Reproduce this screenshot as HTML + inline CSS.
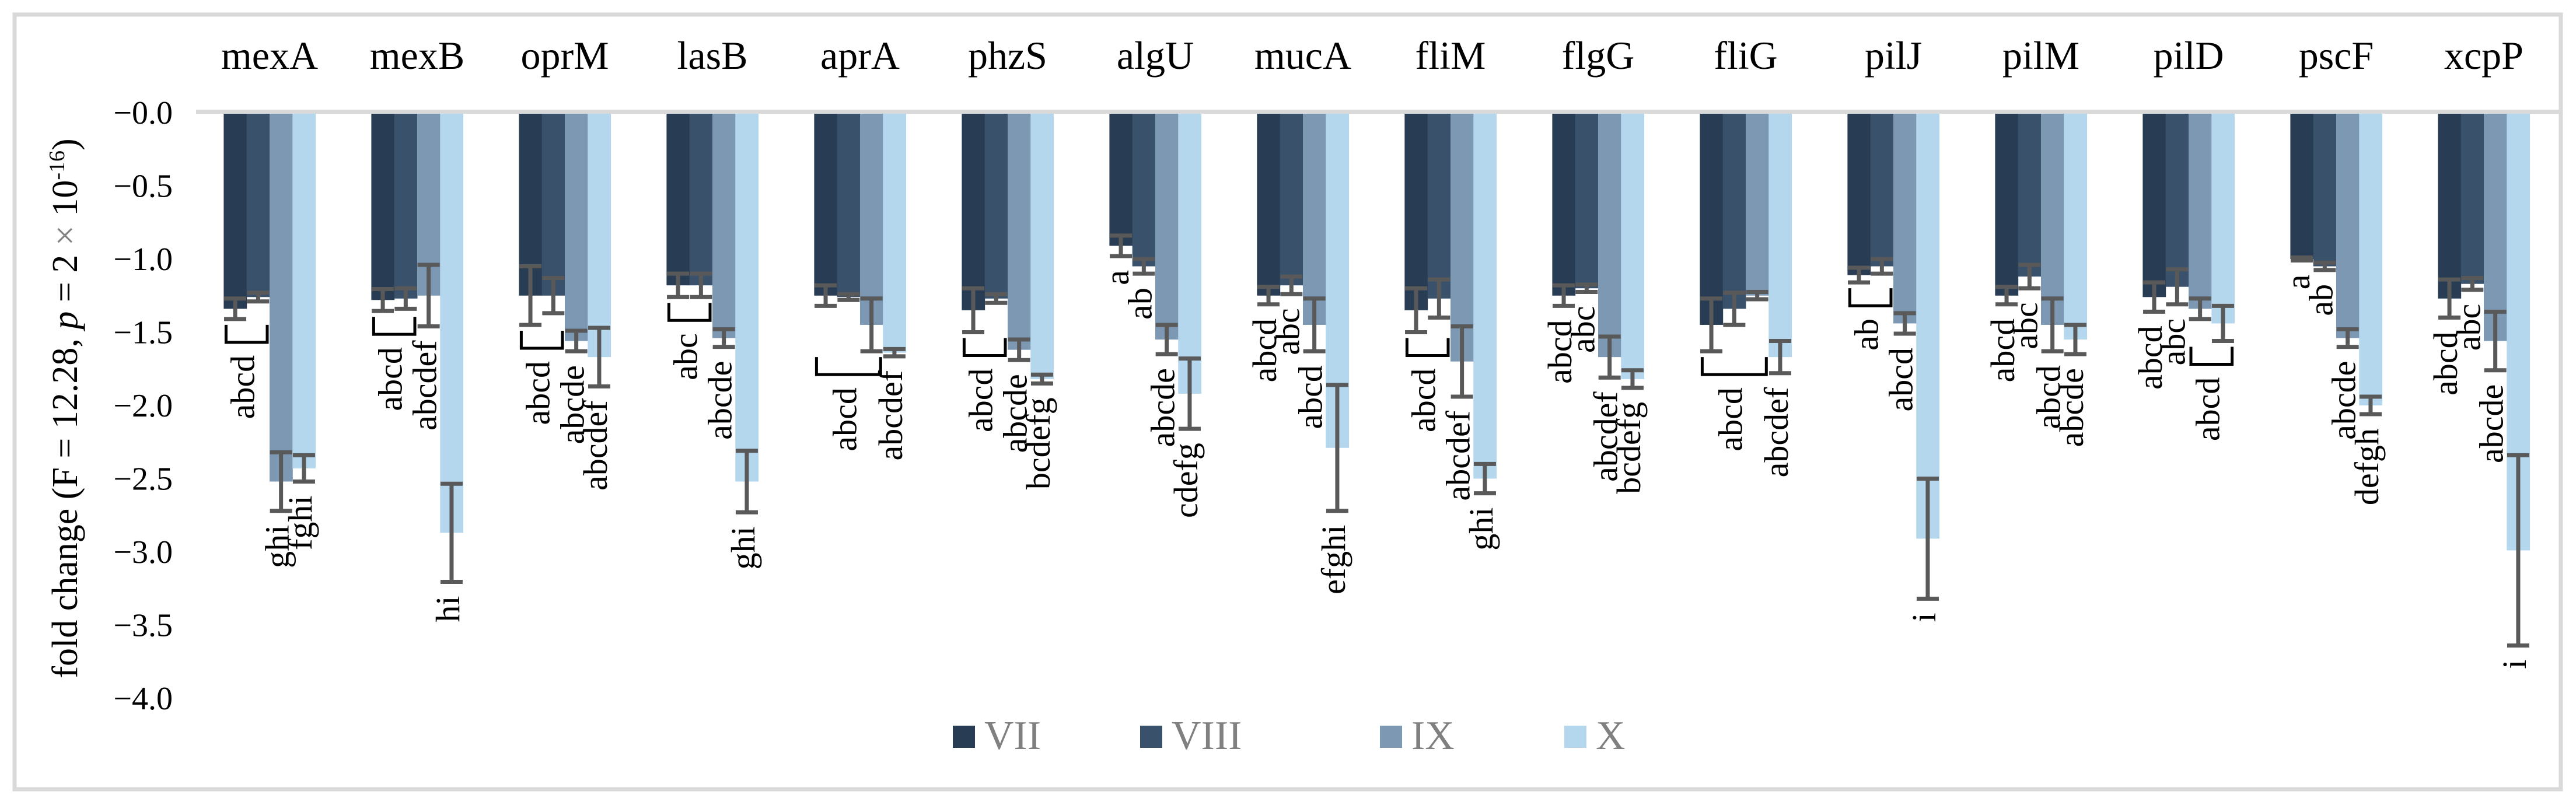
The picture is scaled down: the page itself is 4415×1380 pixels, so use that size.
<!DOCTYPE html>
<html><head><meta charset="utf-8"><style>
html,body{margin:0;padding:0;background:#fff;}
svg{display:block;}
svg text{font-family:"Liberation Serif",serif;}
</style></head><body>
<svg id="chart" width="4415" height="1380" viewBox="0 0 4415 1380" xmlns="http://www.w3.org/2000/svg" font-family="Liberation Serif, serif">
<rect x="25" y="25" width="4364" height="1328" fill="#fff" stroke="#d9d9d9" stroke-width="7"/>
<g id="yaxis"></g>
<line x1="336" y1="191.5" x2="4386" y2="191.5" stroke="#d9d9d9" stroke-width="7"/>
<g id="bars"></g>
<g id="errs"></g>
<g id="brackets"></g>
<g id="labels"></g>
<g id="cats"></g>
<text transform="translate(132,700) rotate(-90)" text-anchor="middle" font-size="62" fill="#000">fold change (F = 12.28,  <tspan font-style="italic">p</tspan> = 2 <tspan fill="#808080">×</tspan> 10<tspan dy="-22" font-size="38">-16</tspan><tspan dy="22">)</tspan></text>
<g id="legend"></g>
</svg>
<script>
const categories = ["mexA","mexB","oprM","lasB","aprA","phzS","algU","mucA","fliM","flgG","fliG","pilJ","pilM","pilD","pscF","xcpP"];
const seriesNames = ["VII","VIII","IX","X"];
const valVII  = [-1.34,-1.28,-1.25,-1.18,-1.25,-1.35,-0.91,-1.25,-1.35,-1.25,-1.45,-1.11,-1.25,-1.26,-1.00,-1.27];
const valVIII = [-1.26,-1.27,-1.25,-1.18,-1.26,-1.27,-1.05,-1.18,-1.27,-1.20,-1.34,-1.05,-1.12,-1.19,-1.05,-1.17];
const valIX   = [-2.52,-1.25,-1.56,-1.54,-1.45,-1.62,-1.55,-1.45,-1.70,-1.67,-1.25,-1.44,-1.45,-1.34,-1.54,-1.56];
const valX    = [-2.43,-2.87,-1.67,-2.52,-1.64,-1.82,-1.92,-2.29,-2.50,-1.82,-1.67,-2.91,-1.55,-1.44,-2.00,-2.99];
const errVII  = [0.07,0.075,0.20,0.08,0.07,0.15,0.07,0.06,0.15,0.07,0.18,0.05,0.06,0.10,0.01,0.13];
const errVIII = [0.03,0.07,0.12,0.08,0.02,0.03,0.05,0.06,0.13,0.025,0.11,0.05,0.08,0.12,0.025,0.04];
const errIX   = [0.20,0.21,0.07,0.06,0.18,0.07,0.10,0.18,0.24,0.14,0.025,0.07,0.18,0.07,0.06,0.20];
const errX    = [0.09,0.335,0.20,0.21,0.025,0.03,0.24,0.43,0.10,0.06,0.11,0.41,0.10,0.12,0.06,0.65];
const lblVII  = ["","","","","","","a","abcd","","abcd","","","abcd","abcd","a","abcd"];
const lblVIII = ["","","","","","","ab","abc","","abc","","","abc","abc","ab","abc"];
const lblIX   = ["ghi","abcdef","abcde","abcde","","abcde","abcde","abcd","abcdef","abcdef","","abcd","abcd","","abcde","abcde"];
const lblX    = ["fghi","hi","abcdef","ghi","abcdef","bcdefg","cdefg","efghi","ghi","bcdefg","abcdef","i","abcde","","defgh","i"];
const bracketCat   = [0,1,2,3,4,5,8,10,11,13];
const bracketFirst = [0,0,0,0,0,0,0,0,0,2];
const bracketLast  = [1,1,1,1,2,1,1,2,1,3];
const bracketText  = ["abcd","abcd","abcd","abc","abcd","abcd","abcd","abcd","ab","abcd"];
const yTicks = [0,-0.5,-1,-1.5,-2,-2.5,-3,-3.5,-4];
const tickLabels = ["−0.0","−0.5","−1.0","−1.5","−2.0","−2.5","−3.0","−3.5","−4.0"];

const NS="http://www.w3.org/2000/svg";
const colors=["#283d53","#3a516b","#7d98b3","#b4d7ee"];
const Y0=193, PPU=251, X0=462, STEP=253, BW=39.3;
function yScale(v){return Y0 - v*PPU;}
function groupCenter(i){return X0 + i*STEP;}
function barX(i,s){return groupCenter(i) - 2*BW + s*BW;}
function mk(tag,attrs,parent){const e=document.createElementNS(NS,tag);for(const k in attrs)e.setAttribute(k,attrs[k]);parent.appendChild(e);return e;}
const vals=[valVII,valVIII,valIX,valX], errs=[errVII,errVIII,errIX,errX], lbls=[lblVII,lblVIII,lblIX,lblX];

const gy=document.getElementById('yaxis');
yTicks.forEach((t,k)=>{
  const e=mk('text',{x:296,y:yScale(t)+19,'text-anchor':'end','font-size':56,fill:'#000'},gy);
  e.textContent=tickLabels[k];
  
  
});
const gc=document.getElementById('cats');
categories.forEach((c,i)=>{
  const e=mk('text',{x:groupCenter(i),y:118,'text-anchor':'middle','font-size':68,fill:'#000'},gc);
  e.textContent=c;
  
  
});
const gb=document.getElementById('bars'), ge=document.getElementById('errs'), gl=document.getElementById('labels'), gk=document.getElementById('brackets');
const errBottom=[];
categories.forEach((c,i)=>{
  errBottom[i]=[];
  for(let s=0;s<4;s++){
    const v=vals[s][i], x=barX(i,s);
    const r=mk('rect',{x:x,y:Y0+2,width:BW+0.5,height:Math.max(0,yScale(v)-Y0-2),fill:colors[s]},gb);
    
    
    const e=errs[s][i], cx=x+BW/2, y1=yScale(v+e), y2=yScale(v-e);
    errBottom[i][s]=y2;
    const g=mk('g',{stroke:'#595959','stroke-width':7},ge);
    
    
    mk('line',{x1:cx,y1:y1,x2:cx,y2:y2},g);
    mk('line',{x1:cx-19,y1:y1,x2:cx+19,y2:y1},g);
    mk('line',{x1:cx-19,y1:y2,x2:cx+19,y2:y2},g);
    const L=lbls[s][i];
    if(L){
      const lx=cx+13, ly=y2+24;
      const t=mk('text',{x:lx,y:ly,'text-anchor':'end','font-size':58,fill:'#000',transform:'rotate(-90 '+lx+' '+ly+')'},gl);
      t.textContent=L;
      
      
    }
  }
});
bracketCat.forEach((ci,k)=>{
  const a=bracketFirst[k], b=bracketLast[k];
  let top=0;for(let s=a;s<=b;s++)top=Math.max(top,errBottom[ci][s]);
  top+=10;
  const xl=barX(ci,a)+4, xr=barX(ci,b)+BW-4, bot=top+30;
  const p=mk('path',{d:'M'+xl+' '+top+' L'+xl+' '+bot+' L'+xr+' '+bot+' L'+xr+' '+top,fill:'none',stroke:'#000','stroke-width':5},gk);
  
  
  const lx=(xl+xr)/2+13, ly=bot+22;
  const t=mk('text',{x:lx,y:ly,'text-anchor':'end','font-size':58,fill:'#000',transform:'rotate(-90 '+lx+' '+ly+')'},gl);
  t.textContent=bracketText[k];
  
  
});
const gL=document.getElementById('legend');
const legX=[1633,1954,2365,2681];
seriesNames.forEach((n,s)=>{
  const g=mk('g',{},gL);
  
  
  mk('rect',{x:legX[s],y:1244,width:38,height:38,fill:colors[s]},g);
  const t=mk('text',{x:legX[s]+54,y:1284,'font-size':70,fill:'#808080'},g);
  t.textContent=n;
});
</script>
</body></html>
